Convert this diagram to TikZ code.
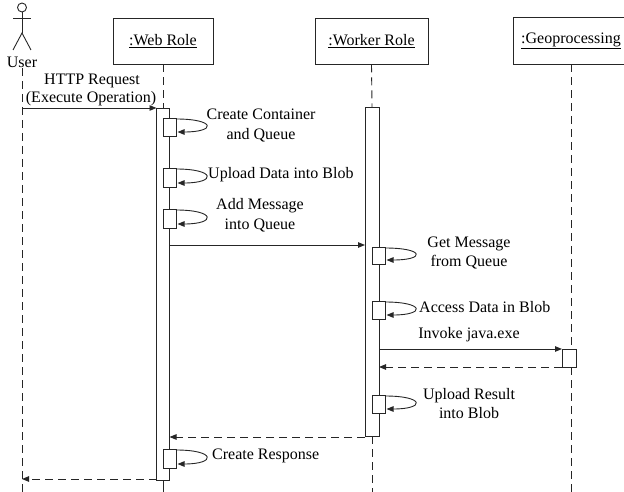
\documentclass[tikz,border=0pt]{standalone}
\usepackage{fontspec}
\setmainfont{Liberation Serif}
\usetikzlibrary{arrows.meta,calc}
\tikzset{
  ln/.style={line width=0.9pt, draw=black!85},
  life/.style={ln, dash pattern=on 8pt off 5pt},
  headbox/.style={ln, rectangle, minimum height=46pt, inner sep=0pt},
  plainhead/.style={rectangle, minimum height=46pt, inner sep=0pt},
  actbar/.style={ln, fill=white},
  msg/.style={ln, -{Triangle[length=7pt,width=5.5pt]}},
  retmsg/.style={msg, dash pattern=on 8pt off 5pt},
  lbl/.style={align=center},
}
\newcommand\selfcallbox[4]{% name, x, ytop, ybot
  \draw[actbar] (#2,#3) rectangle (#2+13,#4);
  \coordinate (#1s) at (#2+13,#3+1);
  \coordinate (#1e) at (#2+14.5,#4-4);
  \draw[msg] (#1s) .. controls ($(#1s)+(40,0)$) and ($(#1e)+(39,0)$) .. (#1e);
}
\begin{document}
\begin{tikzpicture}[x=1pt,y=-1pt,
  every node/.style={font=\fontsize{16}{19.5}\selectfont, inner sep=0pt}]
\useasboundingbox (0,0) rectangle (624,492);

% actor
\draw[ln] (22,7.5) circle (4.5);
\draw[ln] (22,12) -- (22,33);
\draw[ln] (13,18) -- (31,18);
\draw[ln] (13,50) -- (22,33) -- (31,50);
\node (user) at (22,62) {User};

% heads
\node[headbox, minimum width=100pt] (web) at (163,41) {\underline{:Web Role}};
\node[headbox, minimum width=113pt] (worker) at (371.5,41) {\underline{:Worker Role}};
\node[plainhead, minimum width=114pt] (geo) at (571,41) {\underline{:Geoprocessing}};
\draw[ln] (geo.north west) rectangle ($(geo.south east)+(14,0)$);

% lifelines
\coordinate (uTop) at (22,68);
\coordinate (uBot) at (22,492);
\draw[life] (uTop) -- (uBot);
\coordinate (webActTop) at (163,108);
\coordinate (webActBot) at (163,480);
\coordinate (webBot) at (163,492);
\draw[life] (web.south) -- (webActTop);
\draw[ln] (webActBot) -- (webBot);
\coordinate (wkActTop) at (372,107);
\coordinate (wkActBot) at (372,436);
\coordinate (wkBot) at (372,492);
\draw[life] (worker.south) -- (wkActTop);
\draw[life] (wkActBot) -- (wkBot);
\coordinate (geoActTop) at (571,349);
\coordinate (geoActBot) at (571,367);
\coordinate (geoBot) at (571,492);
\draw[life] (geo.south) -- (geoActTop);
\draw[life] (geoActBot) -- (geoBot);

% activation bars
\draw[actbar] (156.5,108) rectangle (169.5,480);
\draw[actbar] (365,107) rectangle (379,436);
\draw[actbar] (562,349) rectangle (576,367);

% self calls
\selfcallbox{a}{163}{118}{136}
\selfcallbox{b}{163}{168}{187}
\selfcallbox{c}{163}{209}{228}
\selfcallbox{d}{372}{247}{264}
\selfcallbox{e}{372}{301}{319}
\selfcallbox{f}{372}{395}{413}
\selfcallbox{g}{163}{449}{468}

% messages
\coordinate (m1s) at (22,108);   \coordinate (m1e) at (156.5,108);
\coordinate (m2s) at (169.5,245); \coordinate (m2e) at (365,245);
\coordinate (m3s) at (379,349);  \coordinate (m3e) at (562,349);
\coordinate (m4s) at (562,367);  \coordinate (m4e) at (379,367);
\coordinate (m5s) at (365,437);  \coordinate (m5e) at (169.5,437);
\coordinate (m6s) at (156.5,479); \coordinate (m6e) at (22,479);
\draw[msg] (m1s) -- (m1e);
\draw[msg] (m2s) -- (m2e);
\draw[msg] (m3s) -- (m3e);
\draw[retmsg] (m4s) -- (m4e);
\draw[retmsg] (m5s) -- (m5e);
\draw[retmsg] (m6s) -- (m6e);

% labels
\node (t1) at (92,81) {HTTP Request};
\node (t2) at (91,99) {(Execute Operation)};
\node[lbl] (c1) at (261,125.5) {Create Container\\and Queue};
\node[anchor=west] (c2) at (208,175) {Upload Data into Blob};
\node[lbl] (c3) at (260,215) {Add Message\\into Queue};
\node[lbl] (c4) at (469,253) {Get Message\\from Queue};
\node[anchor=west] (c5) at (419,307) {Access Data in Blob};
\node (c6) at (469,335) {Invoke java.exe};
\node[lbl] (c7) at (469,403.5) {Upload Result\\into Blob};
\node[anchor=west] (c8) at (212,456) {Create Response};
\end{tikzpicture}
\end{document}
